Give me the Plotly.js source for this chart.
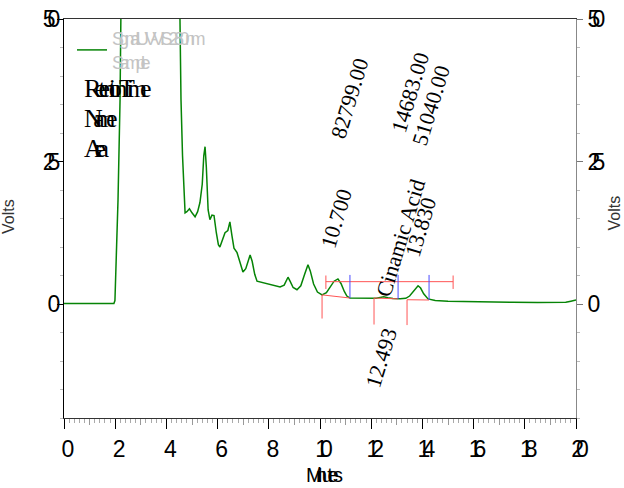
<!DOCTYPE html>
<html>
<head>
<meta charset="utf-8">
<script src="https://cdn.plot.ly/plotly-3.0.1.min.js"></script>
<style>
html,body{margin:0;padding:0;background:#fff;}
#chart{width:624px;height:488px;}
</style>
</head>
<body>
<div id="chart"></div>
<script>
// ---- data ----
const time = [0, 1.0, 1.95, 1.99, 2.05, 2.11, 2.19, 2.23, 2.3, 2.6, 3.0, 3.5, 4.0, 4.4, 4.53, 4.57, 4.63, 4.69, 4.73, 4.8, 4.9, 5.0, 5.12, 5.22, 5.31, 5.4, 5.46, 5.51, 5.56, 5.63, 5.70, 5.78, 5.86, 5.95, 6.03, 6.09, 6.18, 6.29, 6.4, 6.48, 6.56, 6.64, 6.76, 6.88, 6.99, 7.1, 7.2, 7.27, 7.35, 7.45, 7.54, 7.7, 7.93, 8.2, 8.44, 8.6, 8.68, 8.75, 8.83, 8.95, 9.1, 9.25, 9.4, 9.53, 9.62, 9.75, 9.9, 10.08, 10.25, 10.4, 10.55, 10.7, 10.82, 10.95, 11.05, 11.17, 11.5, 11.9, 12.2, 12.35, 12.49, 12.65, 12.85, 13.13, 13.35, 13.5, 13.65, 13.75, 13.83, 13.93, 14.05, 14.22, 14.5, 15.0, 16.25, 17.5, 18.5, 19.375, 19.6, 19.8, 20];
const volts = [0.1, 0.1, 0.1, 0.6, 8, 18.3, 35.9, 50, 100, 300, 400, 350, 200, 80, 50, 35.9, 26, 19.5, 16.0, 16.2, 16.7, 16.0, 15.3, 16.2, 17.8, 21, 26, 27.6, 24, 16.5, 14.8, 15.6, 15.5, 12.5, 10.4, 10.0, 11.3, 12.5, 12.9, 14.4, 12, 9.8, 9.0, 7.0, 5.6, 6.2, 7.8, 8.6, 7.5, 5.2, 4.0, 3.8, 3.6, 3.3, 3.0, 3.3, 4.2, 4.7, 4.0, 2.9, 2.5, 3.2, 5.2, 6.9, 5.8, 3.5, 2.1, 1.6, 2.0, 3.0, 4.0, 4.4, 3.6, 2.2, 1.4, 1.05, 1.0, 0.95, 1.0, 1.15, 1.25, 1.1, 0.95, 0.9, 1.0, 1.4, 2.3, 2.9, 3.2, 2.8, 1.8, 0.9, 0.6, 0.5, 0.35, 0.3, 0.25, 0.25, 0.3, 0.5, 0.7];

const xTickVals = [0, 2, 4, 6, 8, 10, 12, 14, 16, 18, 20];
const xTickLabels = ['0', '2', '4', '6', '8', '10', '12', '14', '16', '18', '20'];
const xMidTickVals = [1, 3, 5, 7, 9, 11, 13, 15, 17, 19];
const yTickVals = [0, 25, 50];
const yTickLabels = ['0', '25', '50'];

const seriesName = ['Signal: UV-VIS 280nm', 'Sample'];
const headerLabels = ['Retention Time', 'Name', 'Area'];

const peakRTLabels = ['10.700', '12.493', '13.830'];
const peakAreas = ['82799.00', '14683.00', '51040.00'];
const peakNames = ['Cinamic Acid'];

// integration marks
const peakStartT = [10.08, 12.11, 13.40];
const peakStartV = [1.6, 1.05, 0.75];
const peakEndT = [11.17, 13.05, 14.26];
const peakEndV = [1.05, 0.9, 0.7];
const startDropV = [-2.55, -3.6, -3.7];
const endTopV = 5.1;
const windowT = [10.23, 15.20];
const windowV = 3.92;
const windowCapV = [2.64, 5.0];

// ---- build ----
const LS = (s, px) => '<span style="letter-spacing:' + px + 'px">' + s + '</span>';

const redX = [], redY = [];
redX.push(windowT[0], windowT[1], null); redY.push(windowV, windowV, null);
windowT.forEach(t => { redX.push(t, t, null); redY.push(windowCapV[0], windowCapV[1], null); });
for (let i = 0; i < peakStartT.length; i++) {
  redX.push(peakStartT[i], peakStartT[i], null); redY.push(peakStartV[i], startDropV[i], null);
  redX.push(peakStartT[i], peakEndT[i], null); redY.push(peakStartV[i], peakEndV[i], null);
}
const blueX = [], blueY = [];
for (let i = 0; i < peakEndT.length; i++) {
  blueX.push(peakEndT[i], peakEndT[i], null); blueY.push(endTopV, peakEndV[i], null);
}

const traces = [
  {x: time, y: volts, type: 'scatter', mode: 'lines',
   line: {color: '#068406', width: 1.5},
   name: LS(seriesName[0], -4.5) + '<br>' + LS(seriesName[1], -4.5), showlegend: true,
   xaxis: 'x', yaxis: 'y'},
  {x: redX, y: redY, type: 'scatter', mode: 'lines', line: {color: '#ff5555', width: 1},
   showlegend: false, xaxis: 'x2', yaxis: 'y2', hoverinfo: 'skip'},
  {x: blueX, y: blueY, type: 'scatter', mode: 'lines', line: {color: '#4a4aff', width: 1},
   showlegend: false, xaxis: 'x2', yaxis: 'y2', hoverinfo: 'skip'}
];

const tickFont = {family: 'Liberation Sans, Arial, sans-serif', size: 23, color: '#000'};
const serif = {family: 'Liberation Serif, Times New Roman, serif', size: 22, color: '#000'};
const W = 512, H = 399, L0 = 64, T0 = 19;
const px = v => (v - L0) / W;
const py = v => (T0 + H - v) / H;

const annotations = [];
[[headerLabels[0], 88.5, -7.2], [headerLabels[1], 118.5, -9.5], [headerLabels[2], 148.5, -8.5]].forEach(([t, y, ls]) => {
  annotations.push({xref: 'paper', yref: 'paper', x: px(82), y: py(y), xanchor: 'left', yanchor: 'middle',
    text: LS(t, ls), showarrow: false, font: {family: serif.family, size: 26, color: '#000'}});
});
const rot = -73;
const peakLabel = (text, x, y) => annotations.push({xref: 'x', yref: 'y', x: x, y: y, text: text,
  showarrow: false, textangle: rot, font: serif, xanchor: 'center', yanchor: 'middle'});
peakLabel(peakAreas[0], 11.17, 36.2);
peakLabel(peakRTLabels[0], 10.66, 15.1);
peakLabel(peakAreas[1], 13.52, 37.1);
peakLabel(peakAreas[2], 14.34, 34.8);
peakLabel(peakNames[0], 13.16, 11.6);
peakLabel(peakRTLabels[2], 13.91, 13.5);
peakLabel(peakRTLabels[1], 12.38, -9.3);
annotations.push({xref: 'paper', yref: 'paper', x: px(624), y: py(213), text: 'Volts', textangle: -90,
  xanchor: 'right', showarrow: false, font: {family: 'Liberation Sans, Arial, sans-serif', size: 16, color: '#333'}});
annotations.push({xref: 'paper', yref: 'paper', x: px(8), y: py(217), text: 'Volts', textangle: -90,
  xanchor: 'center', showarrow: false, font: {family: 'Liberation Sans, Arial, sans-serif', size: 16, color: '#333'}});
annotations.push({xref: 'paper', yref: 'paper', x: px(324), y: py(488), text: LS('Minutes', -5.5),
  showarrow: false, font: {family: 'Liberation Sans, Arial, sans-serif', size: 20, color: '#000'}});

const layout = {
  width: 624, height: 488,
  margin: {l: 64, r: 48, t: 19, b: 70, pad: 0},
  paper_bgcolor: '#fff', plot_bgcolor: '#fff',
  showlegend: true,
  legend: {x: px(72), y: py(20), xanchor: 'left', yanchor: 'top', bgcolor: 'rgba(0,0,0,0)',
    borderwidth: 0, font: {family: 'Liberation Sans, Arial, sans-serif', size: 18, color: '#c4c4c4'}},
  xaxis: {range: [0, 20], tickmode: 'array', tickvals: xTickVals, ticktext: xTickLabels.map(s => LS(s, -8)),
    ticks: 'outside', ticklen: 10, tickwidth: 1, tickcolor: '#000', ticklabelstandoff: 0,
    minor: {dtick: 0.2, ticks: 'outside', ticklen: 4, tickcolor: '#aaa', tickwidth: 1},
    showline: true, linecolor: '#333', linewidth: 1, mirror: true,
    showgrid: false, zeroline: false, tickfont: tickFont},
  xaxis2: {range: [0, 20], overlaying: 'x', anchor: 'y2', side: 'bottom', tickmode: 'array', tickvals: xMidTickVals,
    ticks: 'outside', ticklen: 6, tickcolor: '#999', tickwidth: 1, showticklabels: false,
    showline: false, showgrid: false, zeroline: false},
  yaxis: {range: [-20, 50], tickmode: 'array', tickvals: yTickVals, ticktext: yTickLabels.map(s => LS(s, -8)),
    ticks: 'outside', ticklen: 6, tickwidth: 1, tickcolor: '#000',
    minor: {dtick: 5, ticks: 'outside', ticklen: 3, tickcolor: '#bbb', tickwidth: 1},
    showline: true, linecolor: '#000', linewidth: 1,
    showgrid: false, zeroline: false, tickfont: tickFont},
  yaxis2: {range: [-20, 50], overlaying: 'y', anchor: 'x2', side: 'right', tickmode: 'array', tickvals: yTickVals,
    ticktext: yTickLabels.map(s => LS(s, -8)),
    ticks: 'outside', ticklen: 6, tickwidth: 1, tickcolor: '#777',
    minor: {dtick: 5, ticks: 'outside', ticklen: 3, tickcolor: '#bbb', tickwidth: 1},
    showline: true, linecolor: '#888', linewidth: 1,
    showgrid: false, zeroline: false, tickfont: tickFont},
  annotations: annotations
};

Plotly.newPlot('chart', traces, layout, {displayModeBar: false, staticPlot: true});
</script>
</body>
</html>
